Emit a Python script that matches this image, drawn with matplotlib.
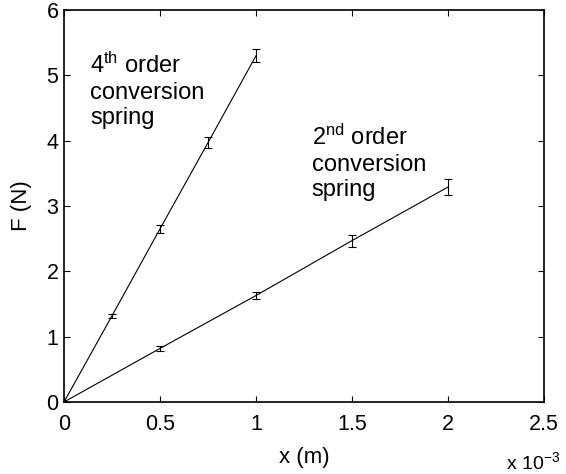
import matplotlib
matplotlib.use("Agg")
import matplotlib.pyplot as plt

plt.rcParams['font.family'] = ['Liberation Sans', 'DejaVu Sans']
plt.rcParams['mathtext.fontset'] = 'custom'
plt.rcParams['mathtext.rm'] = 'Liberation Sans'
plt.rcParams['mathtext.it'] = 'Liberation Sans'

x4 = [0.0, 0.25e-3, 0.5e-3, 0.75e-3, 1.0e-3]
f4 = [0.0, 1.32, 2.65, 3.97, 5.30]
e4 = [0.0, 0.03, 0.06, 0.08, 0.10]

x2 = [0.0, 0.5e-3, 1.0e-3, 1.5e-3, 2.0e-3]
f2 = [0.0, 0.82, 1.63, 2.47, 3.29]
e2 = [0.0, 0.04, 0.06, 0.09, 0.12]

xticks = [0, 0.5e-3, 1.0e-3, 1.5e-3, 2.0e-3, 2.5e-3]
xticklabels = ['0', '0.5', '1', '1.5', '2', '2.5']
yticks = [0, 1, 2, 3, 4, 5, 6]

fig = plt.figure(figsize=(5.66, 4.74), dpi=100)
ax = fig.add_axes([0.1131, 0.1519, 0.848, 0.827])

for xs, fs, es in ((x4, f4, e4), (x2, f2, e2)):
    ax.plot(xs, fs, color='black', lw=0.8)
    ax.errorbar(xs[1:], fs[1:], yerr=es[1:], fmt='none', ecolor='black',
                elinewidth=0.8, capsize=3, capthick=0.8)
ax.plot([0], [0], 'o', color='black', ms=2.5)

ax.set_xlim(0, 2.5e-3)
ax.set_ylim(0, 6)
ax.set_xticks(xticks)
ax.set_xticklabels(xticklabels)
ax.set_yticks(yticks)
ax.tick_params(direction='in', top=True, right=True, labelsize=15.5, length=4, width=0.8)
ax.tick_params(axis='x', pad=9)
ax.tick_params(axis='y', pad=4)
for s in ax.spines.values():
    s.set_linewidth(1.2)

ax.set_xlabel('x (m)', fontsize=16, labelpad=8)
ax.set_ylabel('F (N)', fontsize=16, labelpad=10)

ax.text(0.135e-3, 5.34, '4$^{th}$ order\nconversion\nspring', fontsize=17,
        va='top', ha='left', linespacing=1.2)
ax.text(1.29e-3, 4.24, '2$^{nd}$ order\nconversion\nspring', fontsize=17,
        va='top', ha='left', linespacing=1.2)

fig.text(560 / 566, (474 - 462) / 474, 'x 10$^{-3}$', fontsize=14, ha='right', va='center')

fig.savefig('out.png', dpi=100)
